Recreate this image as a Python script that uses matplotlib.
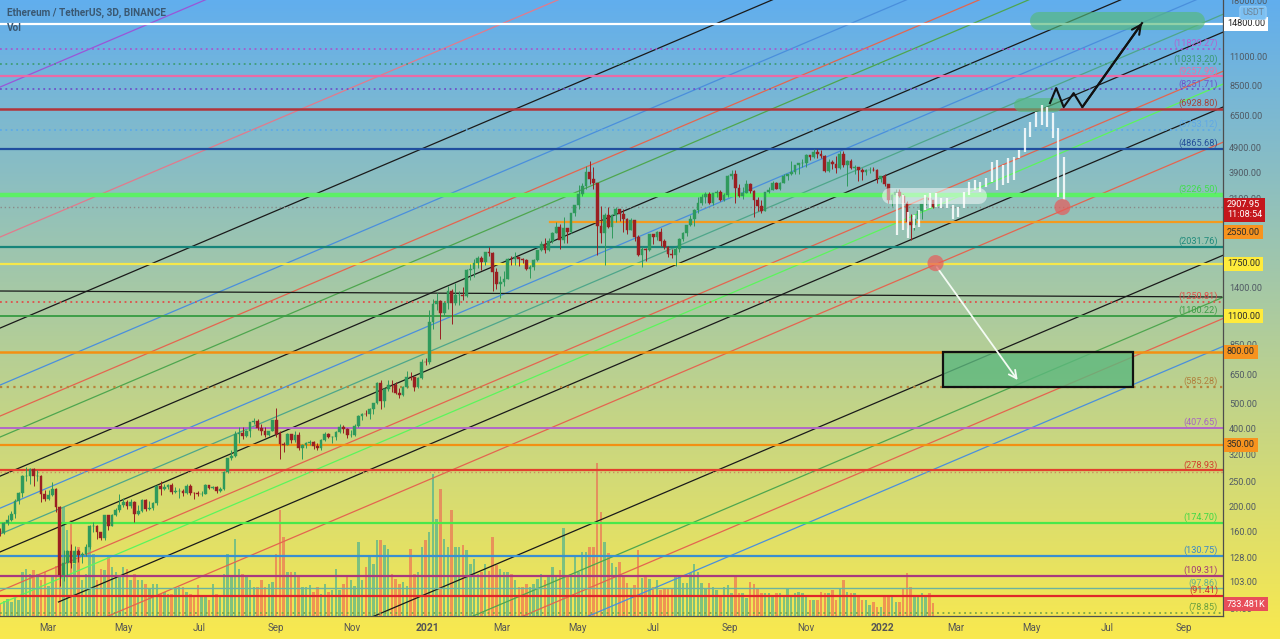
import numpy as np
import matplotlib
matplotlib.use("Agg")
import matplotlib.pyplot as plt
import matplotlib.dates as mdates
from matplotlib import transforms
from matplotlib.patches import Rectangle
from datetime import datetime, timedelta

# ---------------- DATA ----------------
first_candle = "2020-01-23"
candle_step_days = 3
first_open = 163

closes = [
    160, 175, 180, 189, 212, 228, 265, 265, 282, 265,
    265, 227, 217, 224, 237, 201, 110, 122, 136, 122,
    136, 131, 133, 141, 170, 170, 161, 153, 187, 171,
    188, 196, 206, 211, 204, 211, 190, 194, 214, 198,
    200, 209, 244, 237, 240, 245, 231, 233, 233, 229,
    244, 229, 228, 226, 227, 246, 239, 240, 232, 236,
    275, 311, 318, 385, 389, 379, 396, 428, 432, 406,
    395, 383, 395, 435, 385, 352, 351, 387, 365, 384,
    342, 349, 356, 359, 346, 341, 365, 387, 377, 377,
    392, 412, 403, 382, 383, 415, 453, 462, 461, 480,
    509, 609, 518, 575, 598, 596, 555, 545, 586, 642,
    638, 584, 634, 731, 729, 1041, 1225, 1262, 1130, 1233,
    1378, 1235, 1324, 1332, 1314, 1661, 1678, 1769, 1843, 1781,
    1937, 1935, 1626, 1459, 1492, 1533, 1834, 1826, 1854, 1823,
    1808, 1669, 1700, 1819, 1977, 2093, 1971, 2136, 2299, 2422,
    2161, 2403, 2316, 2746, 2945, 3253, 3484, 3952, 3715, 3587,
    2451, 2297, 2706, 2421, 2711, 2855, 2715, 2608, 2372, 2587,
    2231, 1889, 1990, 1982, 2274, 2226, 2323, 2147, 2035, 1918,
    1895, 1995, 2187, 2300, 2462, 2608, 2827, 3012, 3164, 3266,
    3012, 3287, 3324, 3100, 3226, 3834, 3887, 3429, 3212, 3286,
    3575, 3337, 3078, 2926, 2807, 3307, 3380, 3587, 3415, 3604,
    3829, 3877, 3975, 4217, 4287, 4288, 4603, 4518, 4730, 4667,
    4559, 3997, 4318, 4270, 4095, 4631, 4224, 4354, 4117, 4133,
    4018, 3960, 4018, 4049, 4037, 3712, 3829, 3550, 3092, 3239,
    3307, 3212, 3000, 2538, 2470, 2598, 2792, 2990, 3147, 3075,
    2907.95,
]
highs = [
    167, 177, 188, 195, 216, 230, 268, 288, 285, 286,
    280, 267, 234, 234, 252, 238, 203, 138, 138, 145,
    142, 139, 135, 145, 172, 176, 172, 162, 188, 188,
    190, 200, 227, 219, 214, 217, 212, 206, 216, 216,
    212, 210, 245, 253, 247, 248, 250, 241, 238, 237,
    247, 247, 231, 232, 232, 248, 246, 244, 243, 240,
    277, 313, 334, 395, 412, 410, 398, 430, 445, 440,
    420, 410, 397, 438, 488, 395, 358, 389, 382, 397,
    393, 353, 360, 366, 364, 357, 368, 392, 388, 378,
    395, 420, 418, 407, 398, 420, 458, 466, 477, 485,
    510, 612, 622, 580, 622, 625, 610, 580, 592, 676,
    670, 640, 640, 750, 760, 1160, 1280, 1350, 1270, 1260,
    1440, 1395, 1475, 1370, 1430, 1670, 1755, 1825, 1870, 1870,
    1950, 2040, 1950, 1680, 1570, 1640, 1840, 1880, 1945, 1860,
    1840, 1820, 1730, 1835, 1985, 2150, 2200, 2195, 2320, 2550,
    2490, 2645, 2380, 2760, 2960, 3530, 3600, 4190, 4372, 4140,
    3570, 2940, 2750, 2910, 2720, 2890, 2860, 2850, 2620, 2630,
    2590, 2270, 2040, 2010, 2280, 2280, 2350, 2410, 2190, 2050,
    1990, 2030, 2200, 2320, 2470, 2700, 2840, 3180, 3270, 3330,
    3330, 3300, 3375, 3360, 3290, 3840, 4030, 4030, 3550, 3470,
    3680, 3590, 3360, 3175, 3100, 3320, 3480, 3640, 3620, 3610,
    3900, 3890, 4380, 4230, 4300, 4460, 4660, 4600, 4870, 4870,
    4800, 4600, 4450, 4400, 4560, 4780, 4780, 4400, 4450, 4230,
    4140, 4100, 4050, 4140, 4130, 4050, 3830, 3880, 3560, 3260,
    3410, 3400, 3260, 3050, 2730, 2610, 2810, 2990, 3180, 3280,
    3080,
]
lows = [
    156, 158, 172, 178, 183, 207, 220, 255, 248, 242,
    255, 210, 212, 215, 222, 192, 100, 104, 110, 117,
    122, 124, 123, 130, 139, 162, 152, 150, 150, 165,
    170, 186, 193, 202, 198, 200, 176, 187, 192, 195,
    197, 196, 206, 225, 235, 236, 227, 228, 218, 223,
    227, 225, 217, 222, 222, 227, 236, 236, 228, 230,
    235, 272, 305, 315, 355, 370, 375, 375, 420, 400,
    382, 376, 378, 395, 375, 310, 330, 350, 357, 360,
    334, 309, 340, 350, 338, 336, 336, 364, 372, 357,
    366, 388, 388, 373, 376, 380, 412, 436, 451, 439,
    462, 505, 480, 490, 565, 560, 550, 530, 541, 580,
    625, 565, 580, 630, 715, 716, 985, 1160, 900, 1100,
    1170, 1030, 1210, 1215, 1275, 1305, 1510, 1560, 1690, 1650,
    1730, 1880, 1370, 1400, 1290, 1440, 1530, 1730, 1730, 1720,
    1770, 1650, 1550, 1660, 1800, 1960, 1930, 1965, 2100, 2300,
    2000, 2110, 2110, 2300, 2680, 2860, 3200, 3400, 3550, 3400,
    1900, 2100, 1730, 2400, 2200, 2550, 2560, 2320, 2280, 2360,
    2150, 1870, 1700, 1790, 1960, 2080, 2160, 2050, 2000, 1860,
    1850, 1720, 1950, 2150, 2250, 2450, 2460, 2750, 2950, 3000,
    2980, 2950, 3180, 3060, 3050, 3180, 3720, 3000, 3160, 3120,
    3290, 3280, 2650, 2800, 2750, 2800, 3290, 3360, 3400, 3360,
    3590, 3680, 3850, 3900, 3900, 4150, 4150, 4400, 4500, 4500,
    4500, 3950, 3960, 4060, 3920, 4050, 4150, 3500, 4080, 3880,
    3650, 3680, 3870, 3920, 3980, 3600, 3620, 3500, 3000, 2930,
    3200, 3180, 2990, 2400, 2160, 2360, 2580, 2600, 2960, 3040,
    2880,
]
volume_k = [
    670, 840, 950, 780, 1010, 900, 2460, 2630, 2350, 2580,
    2350, 2020, 2460, 1680, 2240, 2800, 4200, 6100, 4820, 5380,
    2910, 3860, 2020, 2350, 4310, 3470, 2020, 2630, 2580, 3420,
    2740, 2460, 2180, 2740, 2630, 2020, 2350, 2020, 2020, 1790,
    1510, 1790, 1790, 1230, 1340, 1230, 1230, 1510, 1620, 1620,
    1340, 1230, 1180, 1740, 1180, 1180, 900, 1790, 1230, 1120,
    2350, 3470, 2300, 4310, 2630, 2350, 2180, 2020, 1620, 1620,
    2020, 1620, 1790, 1900, 3470, 5940, 4420, 2460, 2460, 2460,
    2180, 1620, 1620, 1740, 1340, 1620, 1230, 1790, 1340, 1460,
    2630, 1460, 1790, 2300, 2020, 1680, 4140, 2020, 2740, 3300,
    2910, 4260, 4260, 3980, 3750, 2350, 2070, 1790, 1900, 1680,
    3750, 2350, 2460, 3860, 4260, 4700, 7950, 5430, 7110, 4310,
    3860, 5940, 3860, 3860, 3980, 3700, 2910, 3190, 2350, 2460,
    2910, 2520, 4420, 2860, 2630, 2460, 2460, 2350, 2020, 1620,
    1620, 1790, 1620, 1790, 2070, 2350, 2020, 2180, 2740, 2180,
    2580, 4930, 2180, 2180, 3300, 2460, 3580, 3580, 3860, 3860,
    8570, 5820, 4140, 3530, 2970, 2740, 3020, 2180, 1850, 1570,
    1740, 3700, 2130, 2180, 2070, 1620, 2020, 1460, 1570, 1570,
    1570, 2180, 2180, 1850, 1850, 2410, 2910, 2460, 1850, 1570,
    1850, 1620, 1460, 1180, 1620, 1740, 1290, 2180, 1290, 1290,
    1010, 1900, 1790, 1570, 1290, 1290, 1290, 1120, 1290, 1290,
    1180, 1570, 1180, 1290, 1340, 1290, 1060, 900, 900, 900,
    1340, 1290, 1290, 1460, 900, 1570, 2020, 1340, 1290, 1290,
    1180, 900, 900, 620, 780, 500, 500, 1060, 1120, 1120,
    780, 780, 1570, 2410, 1620, 1060, 1060, 1290, 1060, 1290,
    733.481,
]

# projected "bars pattern" (white ghost bars)
ghost_start = "2022-01-13"
ghost_step_days = 4.47
ghost_high = [3280, 3225, 2775, 2700, 2825, 3225, 3280, 3280, 3140, 3140,
              2950, 2900, 3310, 3620, 3685, 3620, 3750, 4325, 4400, 4210,
              4480, 4520, 4815, 5855, 6175, 6750, 7180, 7050, 6690, 5855, 4520]
ghost_low = [2265, 2365, 2205, 2410, 2430, 2825, 2875, 2900, 2875, 2875,
             2610, 2655, 2875, 3225, 3370, 3310, 3465, 3620, 3370, 3525,
             3590, 3685, 4480, 4730, 5400, 5910, 6010, 5910, 5355, 3170, 3085]

# horizontal levels
level_prices = [14800, 11829.27, 10313.20, 9257.99, 8251.71, 6928.80, 5753.12,
                4865.68, 3226.50, 2907.95, 2550, 2031.76, 1750, 1250.81, 1100.22,
                800, 585.28, 407.65, 350, 278.93, 276.0, 174.70, 130.75, 109.31,
                97.86, 91.41, 78.85]
level_start = {2550: "2021-04-09"}

# labels written on levels
level_label_prices = [11829.27, 10313.20, 9257.99, 8251.71, 6928.80, 5753.12, 4865.68,
                      3226.50, 2031.76, 1250.81, 1100.22, 585.28, 407.65, 278.93,
                      174.70, 130.75, 109.31, 97.86, 91.41, 78.85]
level_label_texts = ["(11829.27)", "(10313.20)", "(9257.99)", "(8251.71)", "(6928.80)",
                     "(5753.12)", "(4865.68)", "(3226.50)", "(2031.76)", "(1250.81)",
                     "(1100.22)", "(585.28)", "(407.65)", "(278.93)", "(174.70)",
                     "(130.75)", "(109.31)", "(97.86)", "(91.41)", "(78.85)"]

# parallel channel lines: price of each line on 2021-01-01, common growth per day
channel_anchor = "2021-01-01"
channel_rate_per_day = 0.0047
channel_prices = [42440, 11190, 4982, 3002, 2279, 1891, 1336, 1005, 798, 681,
                  481, 429, 350, 256, 93.7, 64.5, 53.4, 41.7]
channel_ray_start = {12: "2020-03-10"}

# almost flat black line (two anchor points)
flat_line_dates = ["2020-01-23", "2022-10-01"]
flat_line_prices = [1375, 1304]

# right axis
axis_ticks = [18000, 11000, 8500, 6500, 4900, 3900, 3100, 1400, 850, 650, 500,
              400, 320, 250, 200, 160, 128, 103, 81]
badge_prices = [14800, 3085, 2322, 1750, 1100, 800, 350, 85.0]
badge_texts = ["14800.00", "2907.95\n11:08:54", "2550.00", "1750.00", "1100.00",
               "800.00", "350.00", "733.481K"]

# annotations
zigzag_dates = ["2022-05-16", "2022-05-21", "2022-05-27", "2022-06-04", "2022-06-11", "2022-07-29"]
zigzag_prices = [7308, 8351, 7051, 7986, 7051, 14881]
circle_dates = ["2022-05-26", "2022-02-13"]
circle_prices = [2900, 1762]
arrow_from = ("2022-02-14", 1700)
arrow_to = ("2022-04-20", 623)
target_box = ("2022-02-19", "2022-07-22", 585.28, 800)
green_zone_top = ("2022-05-07", "2022-09-10", 15150)
green_zone_mid = ("2022-04-23", "2022-05-20", 7180)
white_zone = ("2022-01-07", "2022-03-20", 3200)

month_ticks = ["2020-03-01", "2020-05-01", "2020-07-01", "2020-09-01", "2020-11-01",
               "2021-01-01", "2021-03-01", "2021-05-01", "2021-07-01", "2021-09-01",
               "2021-11-01", "2022-01-01", "2022-03-01", "2022-05-01", "2022-07-01",
               "2022-09-01"]
month_labels = ["Mar", "May", "Jul", "Sep", "Nov", "2021", "Mar", "May", "Jul", "Sep",
                "Nov", "2022", "Mar", "May", "Jul", "Sep"]

# ---------------- STYLES ----------------
plt.rcParams['font.family'] = ['Roboto', 'DejaVu Sans']
DOT = (0, (1, 2))
level_style = [
    ('#ffffff', '-', 1.6), ('#a45ad0', DOT, 1.3), ('#3f9d78', DOT, 1.3),
    ('#ea6aa6', '-', 1.6), ('#6f53c9', DOT, 1.3), ('#b2343a', '-', 1.8),
    ('#5eaae6', DOT, 1.3), ('#1f4e9e', '-', 1.6), ('#5cf066', '-', 3.2),
    ('#8a8a8a', DOT, 1.0), ('#f39a1e', '-', 1.6), ('#17857a', '-', 1.6),
    ('#f6e84a', '-', 1.6), ('#e0504a', DOT, 1.3), ('#3e9e48', '-', 1.4),
    ('#f39012', '-', 1.8), ('#b8823a', DOT, 1.6), ('#b266c8', '-', 1.4),
    ('#f39012', '-', 1.6), ('#e2402e', '-', 1.6), ('#d08a60', DOT, 1.0),
    ('#48e84a', '-', 1.6), ('#3a8fd0', '-', 1.6), ('#a83a7e', '-', 1.6),
    ('#6ab3a0', '-', 1.0), ('#e0262a', '-', 1.6), ('#7aa648', DOT, 1.3),
]
label_colors = ['#b462cf', '#3a9a72', '#ea6fa8', '#6f53c9', '#a3443e', '#60a8e6', '#234e98',
                '#3fe04a', '#1e8a7c', '#e0504a', '#3f9e48', '#b0803e', '#a866c0', '#d0402e',
                '#3fd845', '#3a88c8', '#a03a78', '#6ab08a', '#d0302e', '#6aa040']
channel_colors = ['#9a55d8', '#e27a8c', '#1a1a1a', '#4a8fdc', '#e4654f', '#4ea64e',
                  '#1a1a1a', '#4a8fdc', '#4ea68a', '#1a1a1a', '#e4654f', '#5cf55c',
                  '#1a1a1a', '#e4654f', '#1a1a1a', '#4ea64e', '#e4654f', '#4a8fdc']
badge_style = [('#ffffff', '#222222'), ('#c4161c', '#ffffff'), ('#f7931e', '#2a2a2a'),
               ('#ffeb3b', '#2a2a2a'), ('#ffeb3b', '#2a2a2a'), ('#f7931e', '#2a2a2a'),
               ('#f7931e', '#2a2a2a'), ('#e84e5a', '#ffffff')]

W, H, DPI = 1280, 639, 100
PLOT_R, PLOT_B = 1223, 616


def D(s):
    return mdates.date2num(datetime.strptime(s, "%Y-%m-%d"))


# ---------------- FIGURE ----------------
fig = plt.figure(figsize=(W / DPI, H / DPI), dpi=DPI)
bg = fig.add_axes([0, 0, 1, 1])
top_c = np.array([97, 174, 238]) / 255.0
bot_c = np.array([249, 233, 78]) / 255.0
t = np.linspace(0, 1, H)[:, None]
grad = top_c * (1 - t) + bot_c * t
bg.imshow(np.repeat(grad[:, None, :], 2, axis=1), aspect='auto', extent=[0, 1, 0, 1],
          origin='upper')
bg.axis('off')

rect = [0, (H - PLOT_B) / H, PLOT_R / W, PLOT_B / H]
vax = fig.add_axes(rect)
vax.patch.set_alpha(0)
ax = fig.add_axes(rect, sharex=vax)
ax.patch.set_alpha(0)

ref = D("2021-01-01")
xmin = ref - 428 / 1.244
xmax = ref + (PLOT_R - 428) / 1.244
ax.set_yscale('log')
ax.set_ylim(76.5, 18270)
ax.set_xlim(xmin, xmax)

n = min(len(closes), len(highs), len(lows), len(volume_k))
c = np.array(closes[:n], float)
o = np.array([first_open] + closes[:n - 1], float)
hi = np.maximum(np.array(highs[:n], float), np.maximum(o, c))
lo = np.minimum(np.array(lows[:n], float), np.minimum(o, c))
x = D(first_candle) + candle_step_days * np.arange(n)
up = c >= o

# volume
vax.set_ylim(0, 34500)
vax.bar(x, np.array(volume_k[:n]), width=2.0,
        color=np.where(up, '#26a69a', '#ef5350'), alpha=0.55, linewidth=0)
vax.axis('off')

# channel lines
for i, (p0, col) in enumerate(zip(channel_prices, channel_colors)):
    xa = D(channel_ray_start[i]) if i in channel_ray_start else xmin
    xs = np.array([xa, xmax])
    ax.plot(xs, p0 * np.exp(channel_rate_per_day * (xs - D(channel_anchor))),
            color=col, lw=0.9, zorder=2)
ax.plot([D(d) for d in flat_line_dates], flat_line_prices, color='#1a1a1a', lw=0.9, zorder=2)

# horizontal levels
for p, (col, ls, lw) in zip(level_prices, level_style):
    xa = D(level_start[p]) if p in level_start else xmin
    ax.plot([xa, xmax], [p, p], color=col, ls=ls, lw=lw, zorder=2.5)

# candles
ccol = np.where(up, '#2f9a5c', '#9a1f22')
ax.vlines(x, lo, hi, colors=ccol, lw=0.7, zorder=4)
ax.bar(x, np.abs(c - o), bottom=np.minimum(o, c), width=2.2, color=ccol,
       edgecolor=ccol, linewidth=0.3, zorder=4.1)

# ghost bars
gx = D(ghost_start) + ghost_step_days * np.arange(len(ghost_high))
ax.vlines(gx, ghost_low, ghost_high, colors='white', lw=1.6, alpha=0.85, zorder=4.5)

# highlight zones
ax.plot([D(white_zone[0]), D(white_zone[1])], [white_zone[2]] * 2, color='white', alpha=0.5,
        lw=11.5, solid_capstyle='round', zorder=4.4)
ax.plot([D(green_zone_top[0]), D(green_zone_top[1])], [green_zone_top[2]] * 2, color='#55b97a',
        alpha=0.65, lw=13, solid_capstyle='round', zorder=3)
ax.plot([D(green_zone_mid[0]), D(green_zone_mid[1])], [green_zone_mid[2]] * 2, color='#55b97a',
        alpha=0.65, lw=10, solid_capstyle='round', zorder=3)

# target box
bx0, bx1 = D(target_box[0]), D(target_box[1])
ax.add_patch(Rectangle((bx0, target_box[2]), bx1 - bx0, target_box[3] - target_box[2],
                       facecolor='#5cb87e', alpha=0.8, edgecolor='none', zorder=3))
ax.add_patch(Rectangle((bx0, target_box[2]), bx1 - bx0, target_box[3] - target_box[2],
                       facecolor='none', edgecolor='#111111', lw=1.6, zorder=5))

# zigzag path with arrow
zx = [D(d) for d in zigzag_dates]
ax.plot(zx, zigzag_prices, color='#111111', lw=1.5, zorder=6)
ax.annotate('', xy=(zx[-1], zigzag_prices[-1]), xytext=(zx[-2], zigzag_prices[-2]),
            arrowprops=dict(arrowstyle='->', color='#111111', lw=1.5, mutation_scale=16,
                            shrinkA=0, shrinkB=0), zorder=6)

# white arrow
ax.annotate('', xy=(D(arrow_to[0]), arrow_to[1]), xytext=(D(arrow_from[0]), arrow_from[1]),
            arrowprops=dict(arrowstyle='->', color='#f4fbf4', lw=1.3, mutation_scale=14,
                            shrinkA=0, shrinkB=0), zorder=6)

# red circles
ax.scatter([D(d) for d in circle_dates], circle_prices, s=135, color='#e85a5a', alpha=0.7,
           edgecolors='none', zorder=6)

# axes cosmetics
for s in ['top', 'left']:
    ax.spines[s].set_visible(False)
for s in ['right', 'bottom']:
    ax.spines[s].set_color('#4d4d4d')
    ax.spines[s].set_linewidth(0.9)
ax.yaxis.set_major_locator(matplotlib.ticker.NullLocator())
ax.yaxis.set_minor_locator(matplotlib.ticker.NullLocator())
ax.set_xticks([D(d) for d in month_ticks])
ax.set_xticklabels(month_labels)
ax.tick_params(axis='x', length=0, pad=5, labelsize=7, labelcolor='#555555')
for tl in ax.get_xticklabels():
    if tl.get_text().isdigit():
        tl.set_fontweight('bold')
        tl.set_fontsize(7.5)

trans = transforms.blended_transform_factory(ax.transAxes, ax.transData)
xa_lbl = 1229 / PLOT_R
for p in axis_ticks:
    ax.text(xa_lbl, p, f"{p:.2f}", transform=trans, fontsize=6.6, color='#505a64',
            va='center', ha='left', zorder=7)
for p, txt, (fc, tc) in zip(badge_prices, badge_texts, badge_style):
    va = 'top' if '\n' in txt else 'center'
    ax.text(1227 / PLOT_R, p, txt, transform=trans, fontsize=6.6, color=tc, va=va, ha='left',
            linespacing=1.15, zorder=8,
            bbox=dict(boxstyle='square,pad=0.28', fc=fc, ec='none'))

for p, txt, col in zip(level_label_prices, level_label_texts, label_colors):
    ax.text(1218 / PLOT_R, p * 1.006, txt, transform=trans, fontsize=6.6, color=col,
            va='bottom', ha='right', zorder=7)

ax.text(1253 / PLOT_R, 16300, "USDT", transform=trans, fontsize=6.3, color='#6d8396',
        ha='center', va='center', zorder=8,
        bbox=dict(boxstyle='round,pad=0.25', fc='#7cc0f2', ec='#9fd0f5', lw=0.6))

ax.text(7 / PLOT_R, 1 - 13 / PLOT_B, "Ethereum / TetherUS, 3D, BINANCE", transform=ax.transAxes,
        fontsize=7.2, fontweight='bold', color='#3a5872', va='center', ha='left', zorder=8)
ax.text(7 / PLOT_R, 1 - 28 / PLOT_B, "Vol", transform=ax.transAxes,
        fontsize=7.2, fontweight='bold', color='#3a5872', va='center', ha='left', zorder=8)

fig.savefig("out.png", dpi=DPI)
